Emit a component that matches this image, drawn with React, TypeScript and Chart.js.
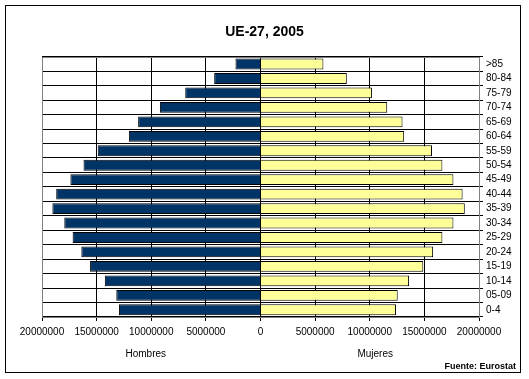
import React, { useEffect, useRef } from "react";
import { Chart, registerables } from "chart.js";

Chart.register(...registerables);

const categories = [">85", "80-84", "75-79", "70-74", "65-69", "60-64", "55-59", "50-54", "45-49", "40-44", "35-39", "30-34", "25-29", "20-24", "15-19", "10-14", "05-09", "0-4"];
const hombres = [2290000, 4240000, 6890000, 9210000, 11200000, 12050000, 14900000, 16200000, 17400000, 18700000, 19050000, 17960000, 17200000, 16400000, 15600000, 14250000, 13200000, 12960000];
const mujeres = [5760000, 7900000, 10200000, 11600000, 13000000, 13150000, 15700000, 16650000, 17660000, 18500000, 18700000, 17660000, 16650000, 15800000, 14900000, 13600000, 12560000, 12400000];
const titleText = "UE-27, 2005";
const leftLabel = "Hombres";
const rightLabel = "Mujeres";
const sourceText = "Fuente: Eurostat";

const FONT = "'Liberation Sans', Arial, sans-serif";

export default function App() {
  const ref = useRef<HTMLCanvasElement | null>(null);
  useEffect(() => {
    document.body.style.margin = "0";
    const canvas = ref.current;
    if (!canvas) return;
    const extras = {
      id: "extras",
      afterDraw(chart: any) {
        const ctx = chart.ctx;
        const area = chart.chartArea;
        ctx.save();
        ctx.strokeStyle = "#000";
        ctx.lineWidth = 1;
        ctx.strokeRect(5.5, 5.5, 515, 367);
        ctx.strokeStyle = "#808080";
        ctx.strokeRect(Math.round(area.left) + 0.5, Math.round(area.top) + 0.5, Math.round(area.right - area.left), Math.round(area.bottom - area.top));
        ctx.fillStyle = "#000";
        ctx.font = "10px " + FONT;
        ctx.textAlign = "center";
        ctx.textBaseline = "middle";
        const xs = chart.scales.x;
        ctx.fillText(leftLabel, xs.getPixelForValue(-10500000), 354);
        ctx.fillText(rightLabel, xs.getPixelForValue(10500000), 354);
        ctx.font = "bold 9px " + FONT;
        ctx.textAlign = "right";
        ctx.fillText(sourceText, 516, 367);
        ctx.restore();
      },
    };
    const chart = new Chart(canvas, {
      type: "bar",
      data: {
        labels: categories,
        datasets: [
          {
            label: leftLabel,
            data: hombres.map((v) => -v),
            backgroundColor: "#003366",
            borderColor: "#000000",
            borderWidth: 1,
            barPercentage: 0.75,
            categoryPercentage: 1,
          },
          {
            label: rightLabel,
            data: mujeres,
            backgroundColor: "#FFFF99",
            borderColor: "#000000",
            borderWidth: 1,
            barPercentage: 0.75,
            categoryPercentage: 1,
          },
        ],
      },
      plugins: [extras],
      options: {
        indexAxis: "y",
        animation: false,
        responsive: false,
        devicePixelRatio: 1,
        layout: { padding: { left: 0, right: 0, top: 0, bottom: 0 } },
        plugins: {
          legend: { display: false },
          tooltip: { enabled: false },
          title: {
            display: true,
            text: titleText,
            color: "#000",
            font: { family: FONT, size: 14, weight: "bold" },
            padding: { top: 24, bottom: 16 },
          },
        },
        scales: {
          x: {
            stacked: true,
            min: -20000000,
            max: 20000000,
            border: { display: false },
            grid: { color: "#000", lineWidth: 1, tickLength: 4, drawOnChartArea: true },
            ticks: {
              stepSize: 5000000,
              color: "#000",
              font: { family: FONT, size: 10 },
              padding: 5,
              maxRotation: 0,
              autoSkip: false,
              callback: (v: any) => String(Math.abs(Number(v))),
            },
            afterFit: (s: any) => {
              s.height = 62;
            },
          },
          y: {
            stacked: true,
            position: "right",
            border: { display: false },
            grid: { color: "#000", lineWidth: 1, tickLength: 4, offset: true },
            ticks: {
              color: "#000",
              font: { family: FONT, size: 10 },
              padding: 3,
              autoSkip: false,
            },
            afterFit: (s: any) => {
              s.width = 50;
            },
          },
          yLeft: {
            type: "category",
            position: "left",
            display: true,
            border: { display: false },
            grid: { display: false, drawTicks: false },
            ticks: { display: false },
            afterFit: (s: any) => {
              s.width = 42;
            },
          },
        },
      },
    } as any);
    return () => chart.destroy();
  }, []);
  return <canvas ref={ref} width={529} height={379} style={{ display: "block" }} />;
}
